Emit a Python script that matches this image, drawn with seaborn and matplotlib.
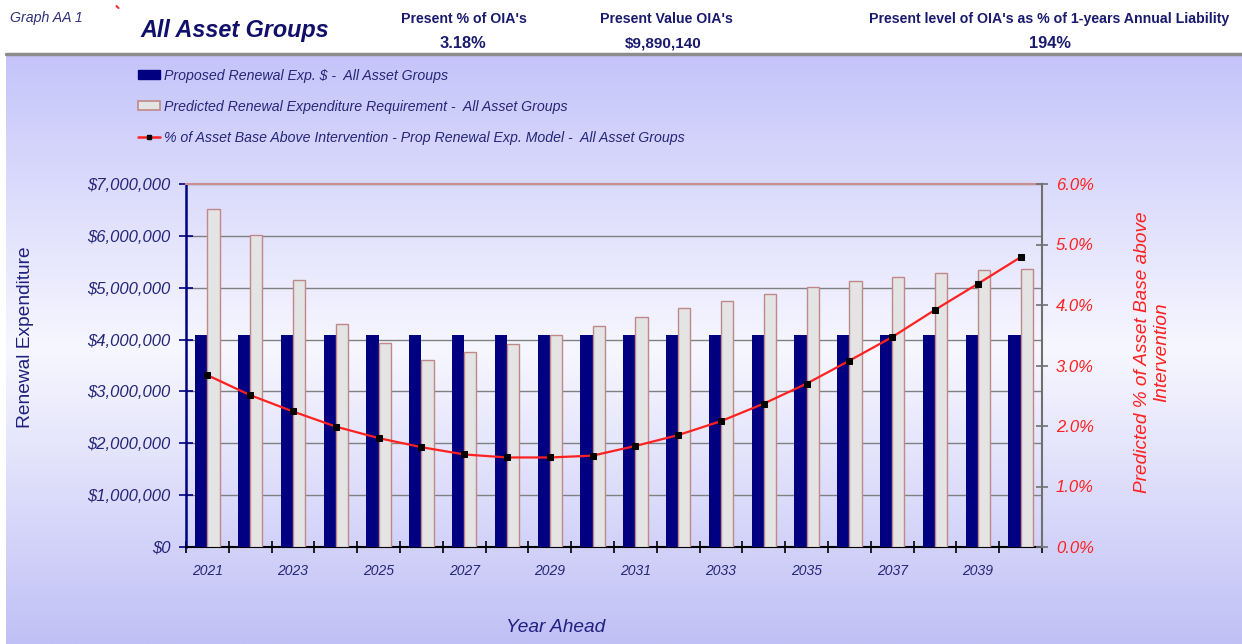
import numpy as np
import pandas as pd
import matplotlib
matplotlib.use("Agg")
import matplotlib.pyplot as plt
from matplotlib.patches import Patch
from matplotlib.lines import Line2D
from matplotlib.ticker import FuncFormatter, PercentFormatter, MultipleLocator, FixedLocator
from matplotlib.colors import LinearSegmentedColormap
import seaborn as sns

# ---- data -------------------------------------------------------------
years = [str(y) for y in range(2021, 2041)]
proposed_exp = [4080000] * 20
predicted_req = [6520000, 6020000, 5140000, 4300000, 3930000, 3600000, 3760000,
                 3910000, 4080000, 4270000, 4440000, 4600000, 4740000, 4880000,
                 5010000, 5120000, 5210000, 5280000, 5340000, 5370000]
pct_above = [2.84, 2.51, 2.24, 1.99, 1.80, 1.65, 1.53, 1.48, 1.48, 1.51,
             1.67, 1.85, 2.08, 2.37, 2.70, 3.08, 3.47, 3.92, 4.35, 4.79]

series_names = ["Proposed Renewal Exp. $ -  All Asset Groups",
                "Predicted Renewal Expenditure Requirement -  All Asset Groups",
                "% of Asset Base Above Intervention - Prop Renewal Exp. Model -  All Asset Groups"]

header_items = [("Present % of OIA's", "3.18%"),
                ("Present Value OIA's", "$9,890,140"),
                ("Present level of OIA's as % of 1-years Annual Liability", "194%")]

# ---- style ------------------------------------------------------------
sns.set_theme(style="white")
plt.rcParams["font.family"] = ["Liberation Sans", "DejaVu Sans"]

NAVY = "#000080"
TEXT = "#262678"
RED = "#ff2020"
GREY_BAR = "#e4e4e4"
ROSE = "#c08888"

W, H = 1242, 644
fig = plt.figure(figsize=(W / 100, H / 100), dpi=100)
fig.patch.set_facecolor("white")


def fx(x):
    return x / W


def fy(y):
    return 1 - y / H


# gradient panel behind the chart
top_px = 55
bg = fig.add_axes([fx(6), 0, 1 - fx(6), fy(top_px)])
cmap = LinearSegmentedColormap.from_list(
    "panel", [(0.0, "#c4c4fa"), (0.5, "#f7f7ff"), (1.0, "#c0c0f6")])
bg.imshow(np.linspace(0, 1, 256)[:, None], aspect="auto", cmap=cmap,
          extent=[0, 1, 0, 1], origin="upper")
bg.set_axis_off()
fig.add_artist(Line2D([fx(6), 1], [fy(top_px - 1.5), fy(top_px - 1.5)],
                      color="#8c8c8c", lw=2.5, transform=fig.transFigure))
# small red tick in the header corner
fig.add_artist(Line2D([fx(116.5), fx(118.5)], [fy(6), fy(8)], color="#ff3030",
                      lw=1.5, transform=fig.transFigure))

# ---- main axes --------------------------------------------------------
L, R, T, B = 186, 1042, 184, 547
ax = fig.add_axes([fx(L), fy(B), fx(R - L), (B - T) / H])
ax.set_facecolor("none")

df = pd.DataFrame({
    "year": years * 2,
    "value": proposed_exp + predicted_req,
    "series": [series_names[0]] * len(years) + [series_names[1]] * len(years),
})
sns.barplot(data=df, x="year", y="value", hue="series",
            palette=[NAVY, GREY_BAR], saturation=1, width=0.57, gap=0,
            dodge=True, legend=False, ax=ax, zorder=3, linewidth=0)
for bar in ax.containers[1]:
    bar.set_edgecolor(ROSE)
    bar.set_linewidth(1.0)

ax.set_xlim(-0.5, len(years) - 0.5)
ax.set_ylim(0, 7000000)
ax.yaxis.set_major_locator(MultipleLocator(1000000))
ax.yaxis.set_major_formatter(FuncFormatter(lambda v, p: f"${v:,.0f}"))
ax.grid(axis="y", color="#808080", lw=1.0)
ax.grid(axis="x", visible=False)
ax.set_axisbelow(True)

ax.set_xticks(range(len(years)))
ax.set_xticklabels([y if i % 2 == 0 else "" for i, y in enumerate(years)])
ax.xaxis.set_minor_locator(FixedLocator(np.arange(-0.5, len(years), 1.0)))
ax.tick_params(axis="x", which="major", length=0, pad=12,
               labelsize=10, labelcolor=TEXT)
ax.tick_params(axis="x", which="minor", bottom=True, length=8,
               direction="inout", color="black", width=1.2)
ax.tick_params(axis="y", left=True, length=10, direction="inout",
               color=NAVY, width=1.2, labelsize=12, labelcolor=TEXT, pad=6)
for lab in ax.get_xticklabels() + ax.get_yticklabels():
    lab.set_style("italic")
ax.set_xlabel("")
ax.set_ylabel("")

ax.spines["left"].set_color(NAVY)
ax.spines["left"].set_linewidth(1.8)
ax.spines["bottom"].set_color("black")
ax.spines["bottom"].set_linewidth(1.5)
ax.spines["top"].set_color("#c89090")
ax.spines["top"].set_linewidth(1.5)
ax.spines["right"].set_visible(False)

# ---- secondary axis: % above intervention ------------------------------
ax2 = ax.twinx()
ax2.set_facecolor("none")
line_df = pd.DataFrame({"pos": np.arange(len(years)), "pct": pct_above})
sns.lineplot(data=line_df, x="pos", y="pct", ax=ax2, color=RED, lw=1.6,
             marker="s", markersize=4, markerfacecolor="black",
             markeredgecolor="black", zorder=5)
ax2.set_ylim(0, 6)
ax2.yaxis.set_major_locator(MultipleLocator(1))
ax2.yaxis.set_major_formatter(PercentFormatter(decimals=1))
ax2.tick_params(axis="y", right=True, length=8, direction="inout",
                color="#707070", width=1.2, labelsize=12, labelcolor=RED, pad=6)
for lab in ax2.get_yticklabels():
    lab.set_style("italic")
ax2.set_xlabel("")
ax2.set_ylabel("")
ax2.grid(False)
for s in ["left", "top", "bottom"]:
    ax2.spines[s].set_visible(False)
ax2.spines["right"].set_color("#707070")
ax2.spines["right"].set_linewidth(1.5)
ax2.set_xlim(-0.5, len(years) - 0.5)

# ---- axis titles ------------------------------------------------------
fig.text(fx(26), fy(337), "Renewal Expenditure", rotation=90, ha="center",
         va="center", fontsize=13.8, color="#20207e")
fig.text(fx(1152), fy(352), "Predicted % of Asset Base above\nIntervention",
         rotation=90, ha="center", va="center", fontsize=13.7, color=RED,
         style="italic", linespacing=1.15)
fig.text(fx(556), fy(627), "Year Ahead", ha="center", va="center",
         fontsize=13.8, color="#20207e", style="italic")

# ---- legend -----------------------------------------------------------
handles = [Patch(facecolor=NAVY, edgecolor=NAVY),
           Patch(facecolor=GREY_BAR, edgecolor=ROSE, lw=1.2),
           Line2D([0], [0], color=RED, lw=1.8, marker="s", markersize=3.5,
                  markerfacecolor="black", markeredgecolor="black")]
leg = fig.legend(handles, series_names, loc="upper left",
                 bbox_to_anchor=(fx(132), fy(63)), frameon=False,
                 fontsize=10.2, labelspacing=1.2, handlelength=1.6,
                 handleheight=0.6, handletextpad=0.25, borderaxespad=0)
for t in leg.get_texts():
    t.set_color(TEXT)
    t.set_style("italic")

# ---- header -----------------------------------------------------------
fig.text(fx(10), fy(18), "Graph AA 1", fontsize=10.2, style="italic",
         color="#30307a", va="center")
fig.text(fx(140), fy(31), "All Asset Groups", fontsize=16.8, style="italic",
         weight="bold", color="#10106a", va="center")
title_x = [464, 666, 1049]
value_x = [463, 663, 1050]
value_size = [11.8, 11, 11.8]
for (title, value), tx, vx, vs in zip(header_items, title_x, value_x, value_size):
    fig.text(fx(tx), fy(19), title, fontsize=10.2, weight="bold",
             color="#1a1a6e", ha="center", va="center")
    fig.text(fx(vx), fy(43), value, fontsize=vs, weight="bold",
             color="#1a1a6e", ha="center", va="center")

fig.savefig("out.png", dpi=100)
